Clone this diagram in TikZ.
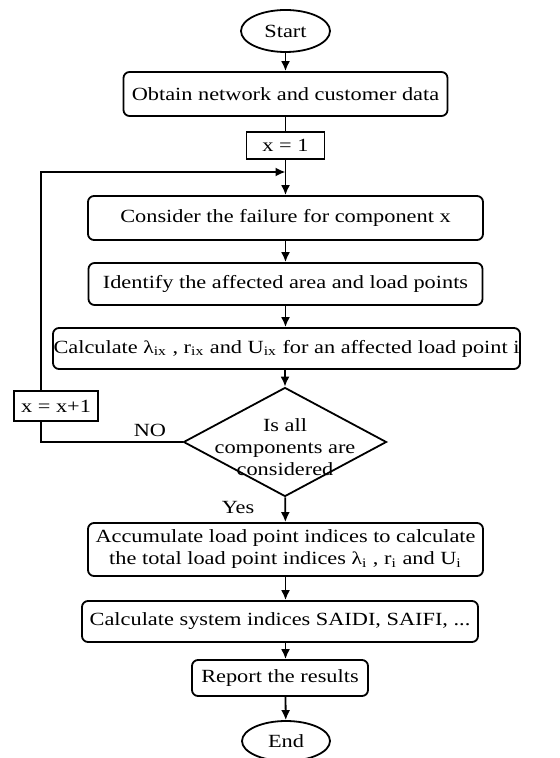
\documentclass[tikz,border=0pt]{standalone}
\usepackage{fontspec}
\setmainfont{Liberation Serif}[FakeStretch=1.2]
\usetikzlibrary{shapes, positioning, arrows.meta}

\begin{document}
\begin{tikzpicture}[x=0.5pt, y=-0.5pt,
	every node/.style={font=\fontsize{9.3pt}{11pt}\selectfont},
	term/.style={draw, ellipse, line width=0.9pt, inner sep=0pt},
	proc/.style={draw, rectangle, rounded corners=3pt, line width=0.9pt, inner sep=0pt, align=center},
	var/.style={draw, rectangle, line width=0.6pt, inner sep=0pt},
	decision/.style={draw, diamond, line width=0.9pt, inner sep=0pt},
	flow/.style={-{Latex[length=5pt, width=4.5pt]}, line width=0.9pt}]
				\useasboundingbox (0,0) rectangle (559,758);
				
				\node[term, minimum width=44.5pt, minimum height=21pt] (start) at (285.5,31) {Start};
				\node[proc, minimum width=162pt, minimum height=22pt] (obtain) at (285.5,94) {Obtain network and customer data};
				\node[var, minimum width=39pt, minimum height=13.5pt] (xone) at (285.5,145.5) {x = 1};
				\node[proc, minimum width=197.5pt, minimum height=22pt] (fail) at (285.5,218) {Consider the failure for component x};
				\node[proc, minimum width=197pt, minimum height=21pt] (area) at (285.5,284) {Identify the affected area and load points};
				\node[proc, minimum width=233.5pt, minimum height=20.5pt] (calc) at (286.5,348.5)
				{Calculate {\small λ}\textsubscript{ix} , r\textsubscript{ix} and U\textsubscript{ix} for an affected load point i};
				\node[decision, minimum width=101.5pt, minimum height=54.5pt,
				label={[align=center, yshift=-2.5pt]center:Is all\\components are\\considered}] (check) at (285,442) {};
				\node[var, minimum width=42pt, minimum height=15pt] (xinc) at (56,406) {x = x+1};
				\node[proc, minimum width=197.5pt, minimum height=26.5pt] (accum) at (285.5,549.5)
				{Accumulate load point indices to calculate\\the total load point indices {\small λ}\textsubscript{i} , r\textsubscript{i} and U\textsubscript{i}};
				\node[proc, minimum width=198pt, minimum height=20.5pt] (sys) at (280,621.5) {Calculate system indices SAIDI, SAIFI, ...};
				\node[proc, minimum width=88pt, minimum height=18pt] (report) at (280,678) {Report the results};
				\node[term, minimum width=44pt, minimum height=20pt] (end) at (286,741) {End};
				
				\node (no) at (150,430) {NO};
				\node (yes) at (238,507) {Yes};
				
				\coordinate (loopx) at (41,172);
				\coordinate (join) at (285.5,172);
				
				\draw[flow] (start) -- (obtain);
				\draw[line width=0.9pt] (obtain) -- (xone);
				\draw[flow] (xone) -- (fail);
				\draw[flow] (fail) -- (area);
				\draw[flow] (area) -- (area |- calc.north);
				\draw[flow] (calc.south -| check) -- (check);
				\draw[flow] (check) -- (accum);
				\draw[flow] (accum.south -| start) -- (sys.north -| start);
				\draw[flow] (sys.south -| start) -- (report.north -| start);
				\draw[flow] (report.south -| start) -- (end);
				
				% loop back
				\draw[line width=0.9pt] (check.west) -| (xinc.south -| loopx);
				\draw[flow] (xinc.north -| loopx) |- (join);
			\end{tikzpicture}
\end{document}
